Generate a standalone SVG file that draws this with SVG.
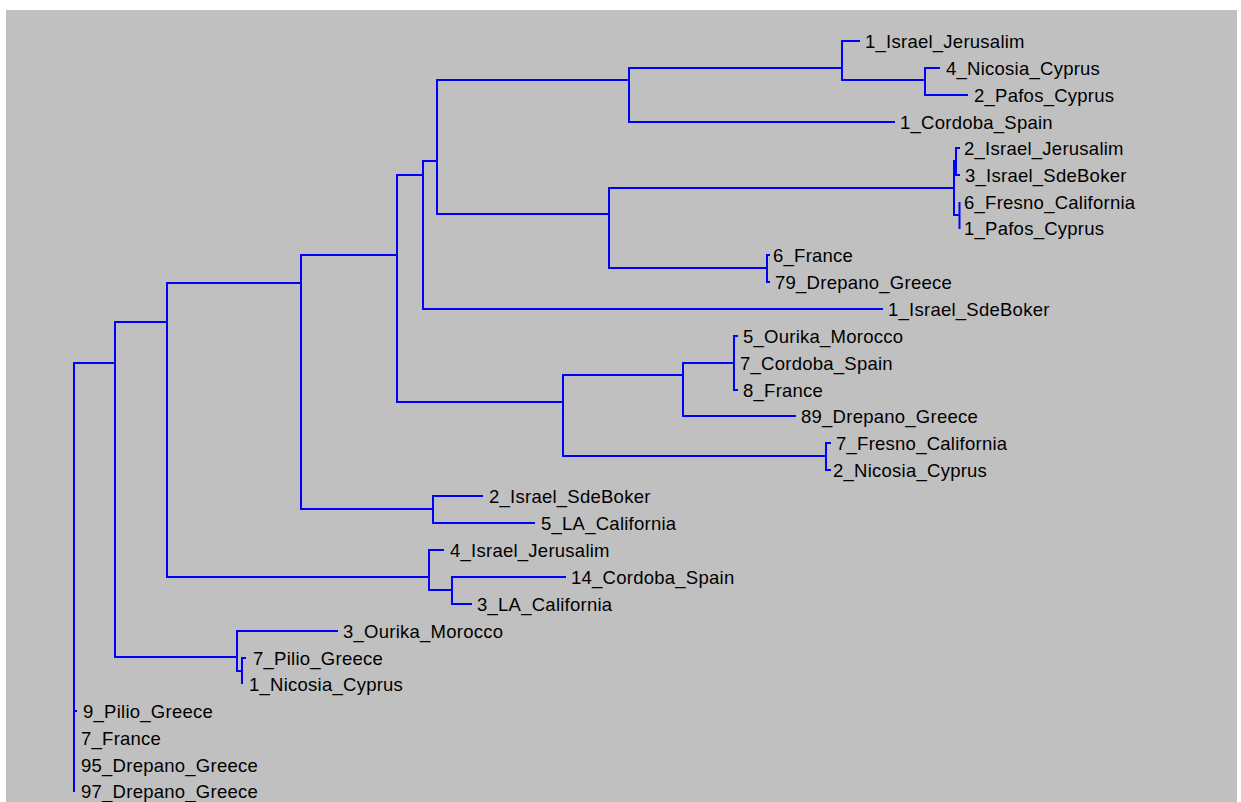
<svg xmlns="http://www.w3.org/2000/svg" width="1241" height="802" viewBox="0 0 1241 802">
<style>
.e{fill:none;stroke:#0000ff;stroke-width:2;stroke-linejoin:miter;stroke-linecap:butt}
.t{font-family:"Liberation Sans",Arial,sans-serif;font-size:18.5px;letter-spacing:0.25px;fill:#000}
</style>
<rect x="0" y="0" width="1241" height="802" fill="#ffffff"/>
<rect x="6" y="10" width="1231" height="792" fill="#c0c0c0"/>
<g id="connectors">
<path class="e" d="M115 363 H74 V792 M74 711 H77"/>
<path class="e" d="M167 322 H115 V657 H237"/>
<path class="e" d="M301 283 H167 V577 H429"/>
<path class="e" d="M397 255 H301 V509 H433"/>
<path class="e" d="M423 175 H397 V402 H563"/>
<path class="e" d="M437 161 H423 V309 H883"/>
<path class="e" d="M629 80 H437 V214 H609"/>
<path class="e" d="M842 68 H629 V122 H895"/>
<path class="e" d="M860 41 H842 V80 H925"/>
<path class="e" d="M940 68 H925 V95 H968"/>
<path class="e" d="M954 188 H609 V268 H767"/>
<path class="e" d="M956 161 H954 V215 H959.5"/>
<path class="e" d="M960 148 H956 V175 H960"/>
<path class="e" d="M959.5 202 V229"/>
<path class="e" d="M770 255 H767 V282 H770"/>
<path class="e" d="M683 375 H563 V456 H826"/>
<path class="e" d="M734 363 H683 V416 H796"/>
<path class="e" d="M738 336 H734 V390 H738"/>
<path class="e" d="M831 443 H826 V470 H831"/>
<path class="e" d="M483 496 H433 V523 H535"/>
<path class="e" d="M444 550 H429 V590 H452"/>
<path class="e" d="M566 577 H452 V604 H472"/>
<path class="e" d="M338 631 H237 V671 H242"/>
<path class="e" d="M246 658 H242 V684"/>
</g>
<g id="leaf-1-israel-jerusalim"><text class="t" x="865" y="47.5">1_Israel_Jerusalim</text></g>
<g id="leaf-4-nicosia-cyprus"><text class="t" x="946" y="74.5">4_Nicosia_Cyprus</text></g>
<g id="leaf-2-pafos-cyprus"><text class="t" x="974" y="101.5">2_Pafos_Cyprus</text></g>
<g id="leaf-1-cordoba-spain"><text class="t" x="900" y="128.5">1_Cordoba_Spain</text></g>
<g id="leaf-2-israel-jerusalim"><text class="t" x="964" y="154.5">2_Israel_Jerusalim</text></g>
<g id="leaf-3-israel-sdeboker"><text class="t" x="965" y="181.5">3_Israel_SdeBoker</text></g>
<g id="leaf-6-fresno-california"><text class="t" x="964" y="208.5">6_Fresno_California</text></g>
<g id="leaf-1-pafos-cyprus"><text class="t" x="964" y="234.5">1_Pafos_Cyprus</text></g>
<g id="leaf-6-france"><text class="t" x="773" y="261.5">6_France</text></g>
<g id="leaf-79-drepano-greece"><text class="t" x="775" y="288.5">79_Drepano_Greece</text></g>
<g id="leaf-1-israel-sdeboker"><text class="t" x="888" y="315.5">1_Israel_SdeBoker</text></g>
<g id="leaf-5-ourika-morocco"><text class="t" x="743" y="342.5">5_Ourika_Morocco</text></g>
<g id="leaf-7-cordoba-spain"><text class="t" x="740" y="369.5">7_Cordoba_Spain</text></g>
<g id="leaf-8-france"><text class="t" x="743" y="396.5">8_France</text></g>
<g id="leaf-89-drepano-greece"><text class="t" x="801" y="422.5">89_Drepano_Greece</text></g>
<g id="leaf-7-fresno-california"><text class="t" x="836" y="449.5">7_Fresno_California</text></g>
<g id="leaf-2-nicosia-cyprus"><text class="t" x="833" y="476.5">2_Nicosia_Cyprus</text></g>
<g id="leaf-2-israel-sdeboker"><text class="t" x="489" y="502.5">2_Israel_SdeBoker</text></g>
<g id="leaf-5-la-california"><text class="t" x="541" y="529.5">5_LA_California</text></g>
<g id="leaf-4-israel-jerusalim"><text class="t" x="450" y="556.5">4_Israel_Jerusalim</text></g>
<g id="leaf-14-cordoba-spain"><text class="t" x="571" y="583.5">14_Cordoba_Spain</text></g>
<g id="leaf-3-la-california"><text class="t" x="477" y="610.5">3_LA_California</text></g>
<g id="leaf-3-ourika-morocco"><text class="t" x="343" y="637.5">3_Ourika_Morocco</text></g>
<g id="leaf-7-pilio-greece"><text class="t" x="253" y="664.5">7_Pilio_Greece</text></g>
<g id="leaf-1-nicosia-cyprus"><text class="t" x="249" y="690.5">1_Nicosia_Cyprus</text></g>
<g id="leaf-9-pilio-greece"><text class="t" x="83" y="717.5">9_Pilio_Greece</text></g>
<g id="leaf-7-france"><text class="t" x="81" y="744.5">7_France</text></g>
<g id="leaf-95-drepano-greece"><text class="t" x="81" y="771.5">95_Drepano_Greece</text></g>
<g id="leaf-97-drepano-greece"><text class="t" x="81" y="797.5">97_Drepano_Greece</text></g>
</svg>
